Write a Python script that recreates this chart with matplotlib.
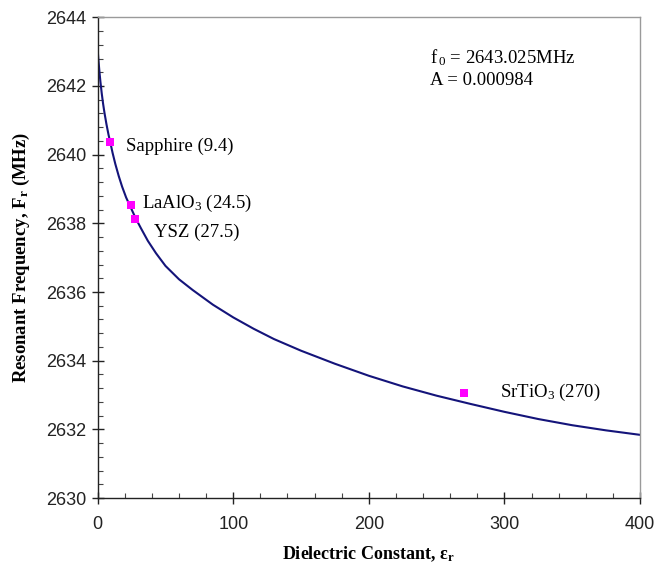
import matplotlib
matplotlib.use("Agg")
import matplotlib.pyplot as plt
from matplotlib.ticker import MultipleLocator

plt.rcParams["mathtext.fontset"] = "custom"
plt.rcParams["mathtext.rm"] = "Liberation Serif"
plt.rcParams["mathtext.it"] = "Liberation Serif"
plt.rcParams["mathtext.bf"] = "Liberation Serif:bold"

# Model curve: resonant frequency vs. dielectric constant
eps_curve = [0, 0.5, 1, 1.5, 2, 3, 4, 5, 6.5, 8, 9.4, 11, 13, 15.5, 18, 21,
             24.5, 28, 32, 37, 43, 50, 60, 70, 85, 100, 115, 130, 150, 175,
             200, 225, 250, 275, 300, 325, 350, 375, 400]
f_curve = [2643.05, 2642.78, 2642.55, 2642.33, 2642.13, 2641.78, 2641.48,
           2641.22, 2640.88, 2640.58, 2640.34, 2640.05, 2639.73, 2639.38,
           2639.07, 2638.75, 2638.45, 2638.15, 2637.85, 2637.49, 2637.13,
           2636.76, 2636.37, 2636.06, 2635.63, 2635.26, 2634.93, 2634.63,
           2634.29, 2633.91, 2633.56, 2633.25, 2632.98, 2632.74, 2632.51,
           2632.30, 2632.12, 2631.97, 2631.84]

# Measured substrates
materials = ["Sapphire (9.4)", r"LaAlO$_3$ (24.5)", "YSZ (27.5)", r"SrTiO$_3$ (270)"]
eps_meas = [9.4, 24.5, 27.5, 270]
f_meas = [2640.36, 2638.54, 2638.13, 2633.05]
label_x = [21, 33, 41.5, 297]
label_y = [2640.25, 2638.57, 2637.75, 2633.07]

x_ticks = [0, 100, 200, 300, 400]
y_ticks = [2630, 2632, 2634, 2636, 2638, 2640, 2642, 2644]

fig = plt.figure(figsize=(6.7, 5.7), dpi=100)
ax = fig.add_axes([0.1458, 0.1263, 0.8094, 0.8433])

ax.plot(eps_curve, f_curve, color="#14147a", lw=1.5, zorder=2)
ax.plot(eps_meas, f_meas, linestyle="none", marker="s", markersize=6,
        color="#ff00ff", markeredgewidth=0, zorder=3)

serif = "Liberation Serif"
for name, lx, ly in zip(materials, label_x, label_y):
    ax.text(lx, ly, name, fontsize=13.5, family=serif, va="center", ha="left")

ax.text(245, 2642.84, r"f$_{\,0}$ = 2643.025MHz", fontsize=13.5, family=serif,
        va="center", ha="left")
ax.text(245, 2642.17, "A = 0.000984", fontsize=13.5, family=serif,
        va="center", ha="left")

ax.set_xlim(0, 400)
ax.set_ylim(2630, 2644)
ax.set_xticks(x_ticks)
ax.set_yticks(y_ticks)
ax.xaxis.set_minor_locator(MultipleLocator(20))
ax.yaxis.set_minor_locator(MultipleLocator(0.4))

ax.tick_params(which="major", direction="inout", length=8, width=1,
               labelsize=13, colors="#222222")
ax.tick_params(axis="x", which="major", pad=9)
ax.tick_params(axis="y", which="major", pad=4)
ax.tick_params(which="minor", direction="in", length=3.5, width=0.8,
               colors="#444444")
ax.tick_params(top=False, right=False, which="both")
for lab in ax.get_xticklabels() + ax.get_yticklabels():
    lab.set_family("Liberation Sans")

for side in ("left", "bottom"):
    ax.spines[side].set_color("#222222")
    ax.spines[side].set_linewidth(1.0)
for side in ("top", "right"):
    ax.spines[side].set_color("#9a9a9a")
    ax.spines[side].set_linewidth(1.0)

ax.set_xlabel(r"Dielectric Constant, $\mathbf{\varepsilon_r}$", fontsize=13,
              family=serif, fontweight="bold", labelpad=8)
ax.set_ylabel(r"Resonant Frequency, F$_\mathbf{r}$ (MHz)", fontsize=13.5,
              family=serif, fontweight="bold", labelpad=10)

fig.savefig("out.png", dpi=100, facecolor="white")
